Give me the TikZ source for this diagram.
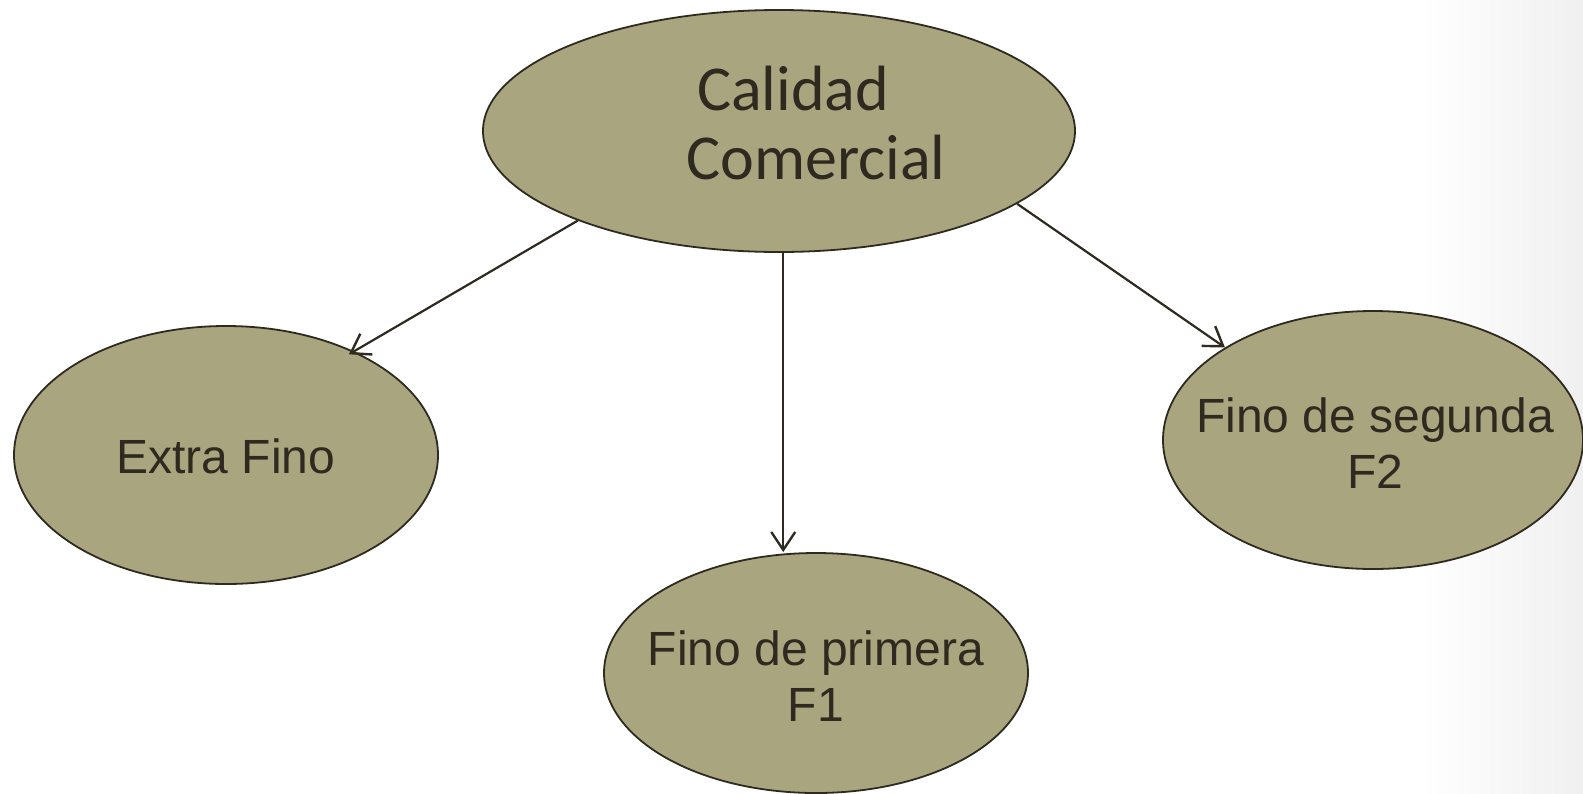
\documentclass[tikz,border=0pt]{standalone}
\usepackage{fontspec}
\setmainfont{Liberation Sans}
\newfontfamily\calibri{Carlito}
\usetikzlibrary{shapes.geometric,arrows.meta}
\definecolor{olivefill}{RGB}{169,165,126}
\definecolor{inkdark}{RGB}{46,42,32}
\tikzset{
  blob/.style={ellipse, draw=inkdark, line width=1.8pt, fill=olivefill, inner sep=0pt},
  lbl/.style={text=inkdark, font=\fontsize{48}{56}\selectfont, align=center, inner sep=0pt},
  conn/.style={draw=inkdark, line width=2.2pt, -{Straight Barb[length=18pt,width=24pt,line width=2.4pt]}}
}
\begin{document}
\begin{tikzpicture}[x=1pt,y=-1pt]
\useasboundingbox (0,0) rectangle (1583,793);
\shade[left color=white, right color=black!6] (1420,0) rectangle (1583,793);
% ellipses
\node[blob, minimum width=592pt, minimum height=242pt] (top) at (779,131) {};
\node[blob, minimum width=424pt, minimum height=258pt] (extra) at (226,455) {};
\node[blob, minimum width=424pt, minimum height=240pt] (f1) at (816,673) {};
\node[blob, minimum width=420pt, minimum height=258pt] (f2) at (1373,440) {};
% texts
\node[lbl, font=\calibri\fontsize{64}{69}\selectfont, align=left, anchor=west] (toptext) at (686,123) {\hspace{11pt}Calidad\\Comercial};
\node[lbl] (extratext) at (226,456) {Extra Fino};
\node[lbl] (f1text) at (816,676) {Fino de primera\\F1};
\node[lbl] (f2text) at (1375,443) {Fino de segunda\\F2};
% connectors
\draw[conn, shorten >=-6pt] (top.204) -- (extra.39);
\draw[conn] (top.-88.6) -- (top.-88.6 |- f1.north);
\draw[conn] (top.-17.8) -- (f2.148.4);
\end{tikzpicture}
\end{document}
